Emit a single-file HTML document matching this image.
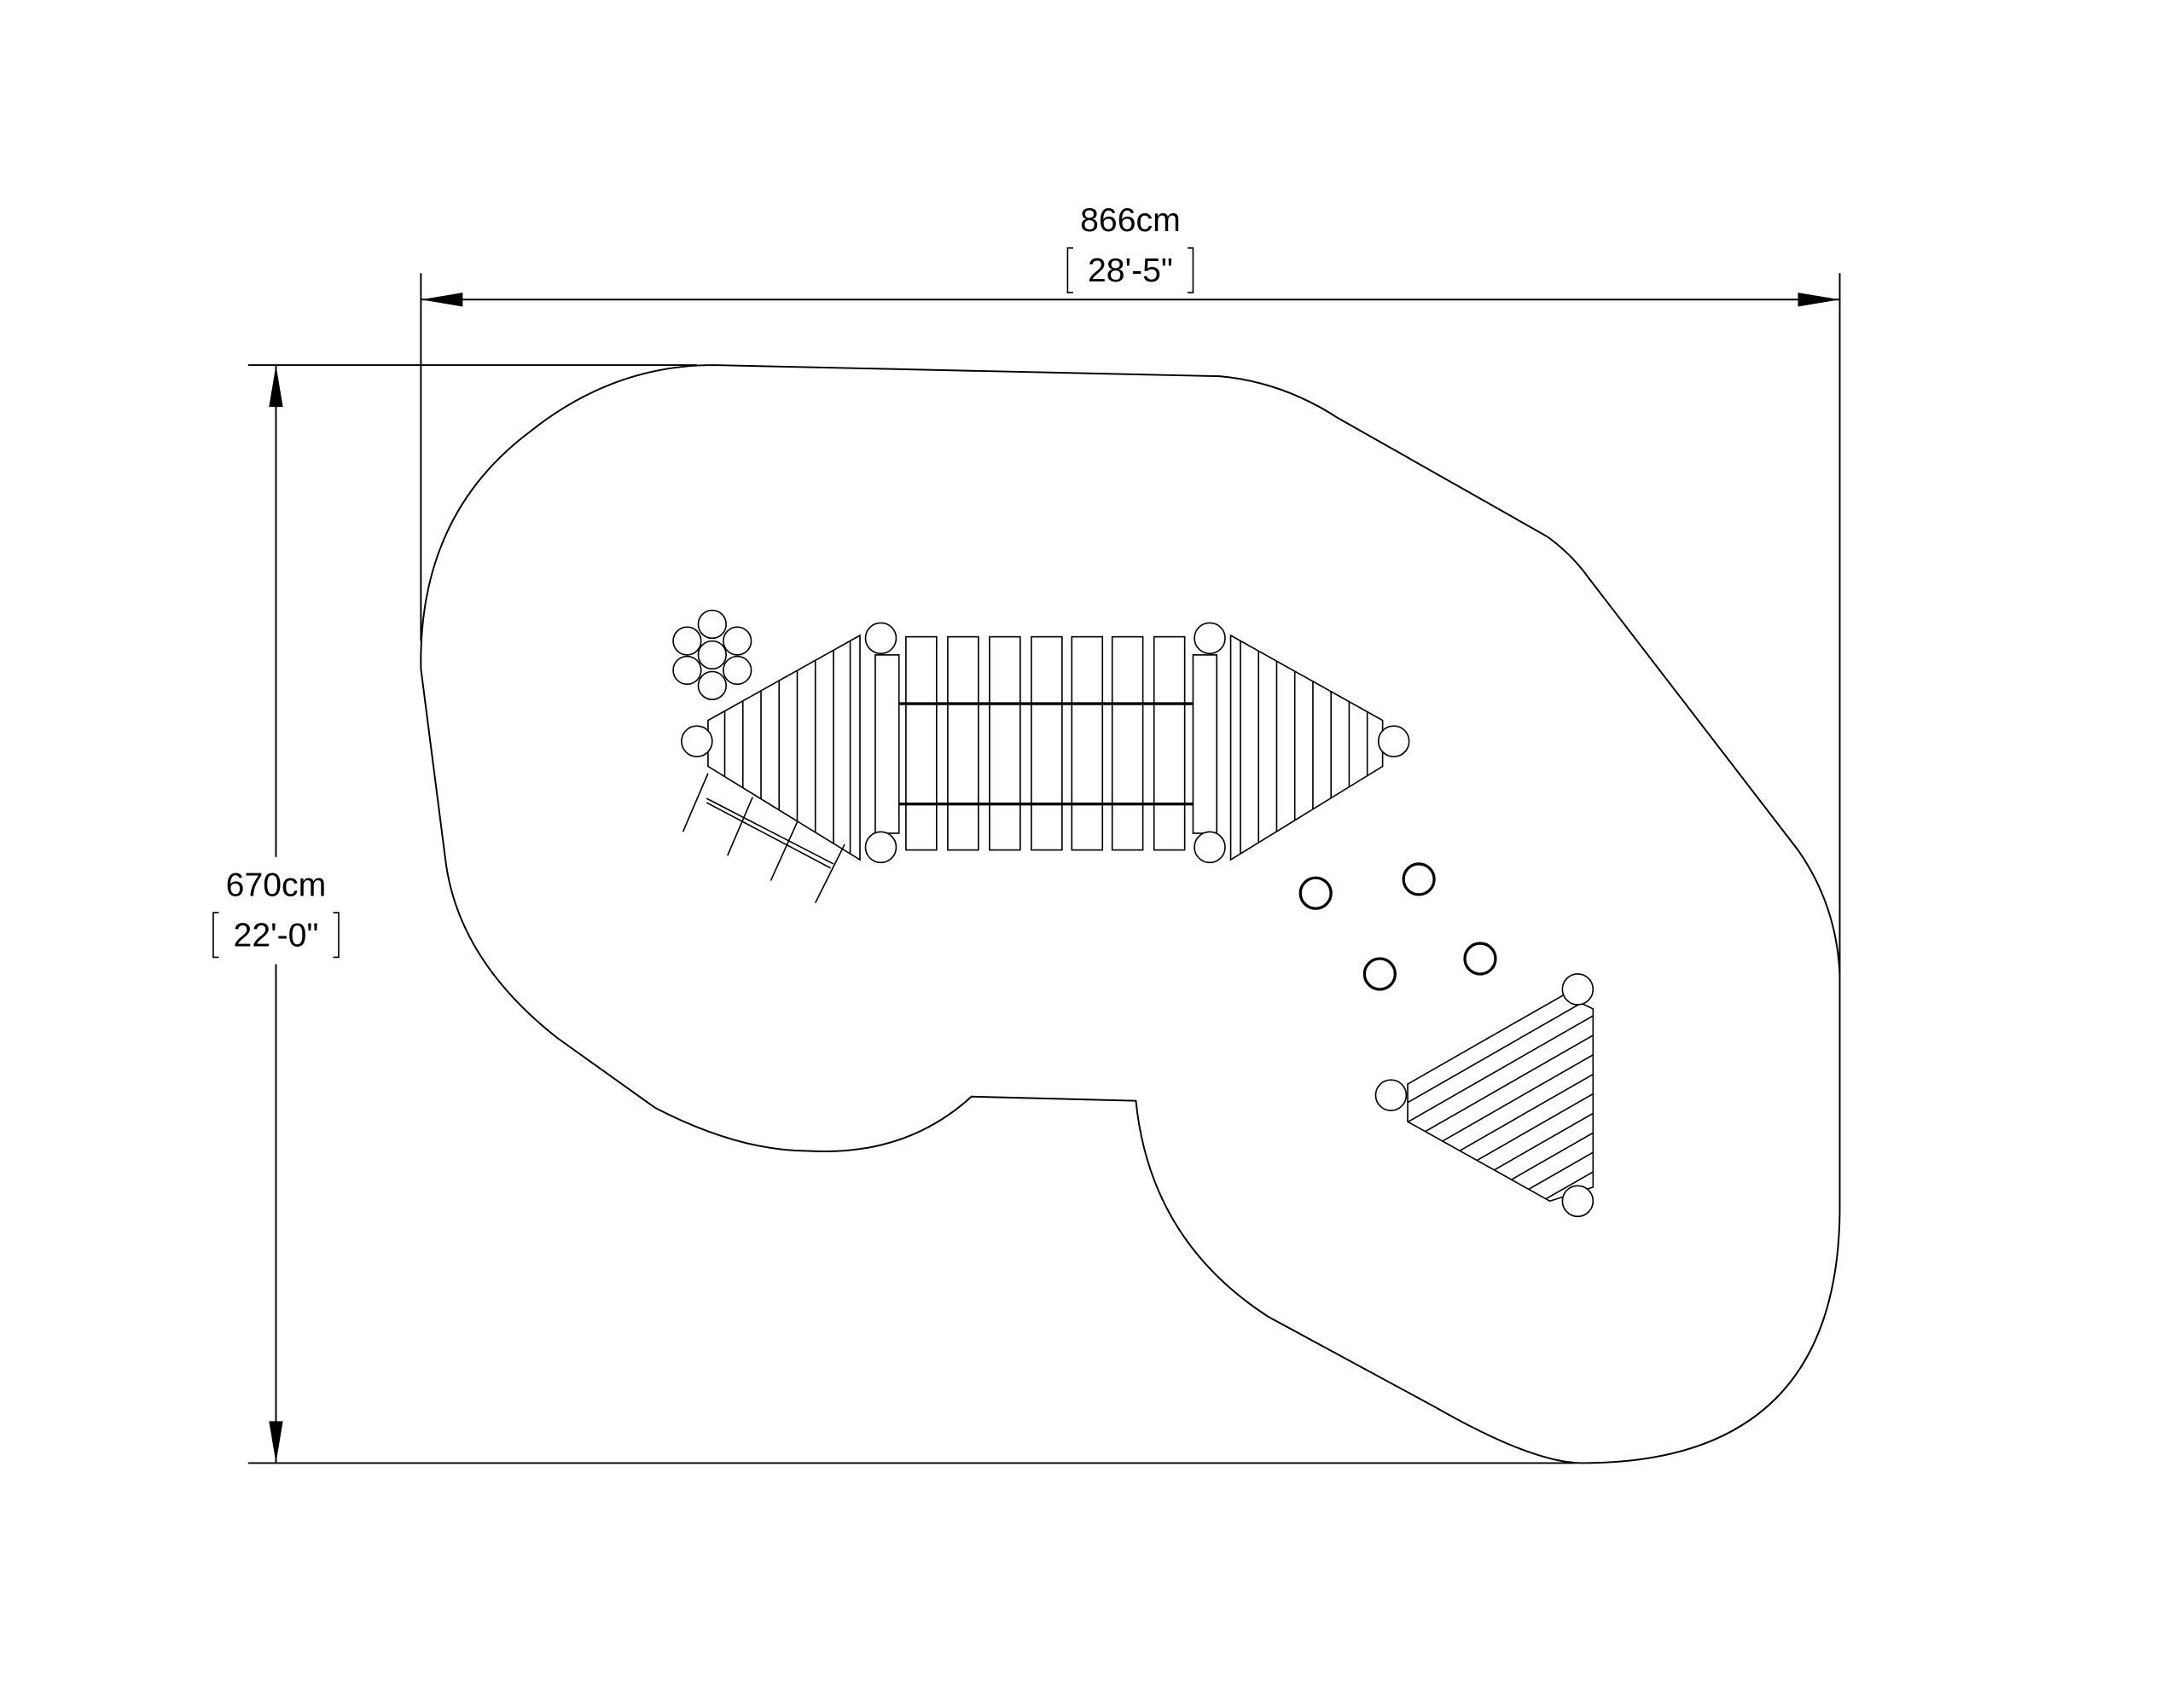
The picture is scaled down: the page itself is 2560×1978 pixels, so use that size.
<!DOCTYPE html>
<html><head><meta charset="utf-8"><style>
html,body{margin:0;padding:0;background:#fff;}
svg{display:block;}
text{font-family:"Liberation Sans",sans-serif;fill:#000;}
</style></head><body>
<svg width="2560" height="1978" viewBox="0 0 1567 1210.7" xmlns="http://www.w3.org/2000/svg">
<defs>
<clipPath id="lp"><polygon points="617,456 508,517 508,550 617,617"/></clipPath>
<clipPath id="rp"><polygon points="883,456 992,517 992,550 883,617"/></clipPath>
<clipPath id="tp"><polygon points="1010,778 1122,714 1143,724 1143,852 1112,862 1010,805"/></clipPath>
</defs>
<g fill="none" stroke="#000" stroke-width="1.2">
<line x1="302" y1="196" x2="302" y2="460"/>
<line x1="1320" y1="196" x2="1320" y2="700"/>
<line x1="302" y1="215" x2="1320" y2="215"/>
<line x1="178" y1="262" x2="500" y2="262"/>
<line x1="178" y1="1050" x2="1130" y2="1050"/>
<line x1="198" y1="262" x2="198" y2="615"/>
<line x1="198" y1="692" x2="198" y2="1050"/>
<path d="M512,262 L875,270 Q920,274 960,300 L1110,385 Q1128,398 1140,415 L1290,610 Q1318,650 1320,700 L1320,870 Q1318,1050 1135,1050 Q1100,1050 1030,1010 L910,945 Q825,890 815,790 L697,787 Q650,830 580,826 Q530,826 470,795 L400,745 Q330,690 320,620 L302,480 Q300,370 380,310 Q440,262 512,262 Z"/>
</g>
<g fill="#000" stroke="none">
<polygon points="302,215 332,210 332,220"/>
<polygon points="1320,215 1290,210 1290,220"/>
<polygon points="198,262 193,292 203,292"/>
<polygon points="198,1050 193,1020 203,1020"/>
</g>
<text x="811" y="166" font-size="24" text-anchor="middle">866cm</text>
<text x="811" y="202" font-size="24" text-anchor="middle">28'-5"</text>
<path d="M770,178 h-4 v32 h4 M852,178 h4 v32 h-4" fill="none" stroke="#000" stroke-width="1"/>
<text x="198" y="643" font-size="24" text-anchor="middle">670cm</text>
<text x="198" y="679" font-size="24" text-anchor="middle">22'-0"</text>
<path d="M157,655 h-4 v32 h4 M239,655 h4 v32 h-4" fill="none" stroke="#000" stroke-width="1"/>

<g fill="none" stroke="#000" stroke-width="1">
<rect x="650" y="457" width="22" height="153"/>
<rect x="680" y="457" width="22" height="153"/>
<rect x="710" y="457" width="22" height="153"/>
<rect x="740" y="457" width="22" height="153"/>
<rect x="769" y="457" width="22" height="153"/>
<rect x="798" y="457" width="22" height="153"/>
<rect x="828" y="457" width="22" height="153"/>
<line x1="645" y1="505" x2="856" y2="505" stroke-width="2"/>
<line x1="645" y1="577" x2="856" y2="577" stroke-width="2"/>
<rect x="628" y="470" width="17" height="128"/>
<rect x="856" y="470" width="17" height="128"/>
<polygon points="617,456 508,517 508,550 617,617"/>
<g clip-path="url(#lp)">
<line x1="520" y1="440" x2="520" y2="630"/><line x1="533" y1="440" x2="533" y2="630"/>
<line x1="546" y1="440" x2="546" y2="630"/><line x1="559" y1="440" x2="559" y2="630"/>
<line x1="572" y1="440" x2="572" y2="630"/><line x1="585" y1="440" x2="585" y2="630"/>
<line x1="598" y1="440" x2="598" y2="630"/><line x1="610" y1="440" x2="610" y2="630"/>
</g>
<polygon points="883,456 992,517 992,550 883,617"/>
<g clip-path="url(#rp)">
<line x1="890" y1="440" x2="890" y2="630"/><line x1="903" y1="440" x2="903" y2="630"/>
<line x1="916" y1="440" x2="916" y2="630"/><line x1="929" y1="440" x2="929" y2="630"/>
<line x1="942" y1="440" x2="942" y2="630"/><line x1="955" y1="440" x2="955" y2="630"/>
<line x1="968" y1="440" x2="968" y2="630"/><line x1="981" y1="440" x2="981" y2="630"/>
</g>
<g fill="#fff">
<circle cx="632" cy="458" r="11"/><circle cx="632" cy="608" r="11"/><circle cx="500" cy="532" r="11"/>
<circle cx="868" cy="458" r="11"/><circle cx="868" cy="608" r="11"/><circle cx="1000" cy="532" r="11"/>
<circle cx="511" cy="448" r="10"/><circle cx="493" cy="460" r="10"/><circle cx="529" cy="460" r="10"/>
<circle cx="493" cy="481" r="10"/><circle cx="529" cy="481" r="10"/><circle cx="511" cy="492" r="10"/>
<circle cx="511" cy="470" r="10"/>
</g>
<line x1="507" y1="573" x2="598" y2="620"/>
<line x1="507" y1="576" x2="596" y2="623"/>
<line x1="508" y1="555" x2="490" y2="597"/>
<line x1="540" y1="572" x2="522" y2="614"/>
<line x1="572" y1="590" x2="553" y2="632"/>
<line x1="606" y1="606" x2="585" y2="648"/>
<g stroke-width="2">
<circle cx="944" cy="641" r="11"/><circle cx="1018" cy="631" r="11"/>
<circle cx="990" cy="699" r="11"/><circle cx="1062" cy="688" r="11"/>
</g>
<polygon points="1010,778 1122,714 1143,724 1143,852 1112,862 1010,805"/>
<g clip-path="url(#tp)">
<line x1="1000" y1="797" x2="1150" y2="711"/>
<line x1="1000" y1="811" x2="1150" y2="725"/>
<line x1="1000" y1="825" x2="1150" y2="739"/>
<line x1="1000" y1="839" x2="1150" y2="753"/>
<line x1="1000" y1="853" x2="1150" y2="767"/>
<line x1="1000" y1="867" x2="1150" y2="781"/>
<line x1="1000" y1="881" x2="1150" y2="795"/>
<line x1="1000" y1="895" x2="1150" y2="809"/>
<line x1="1000" y1="909" x2="1150" y2="823"/>
<line x1="1000" y1="923" x2="1150" y2="837"/>
</g>
<g fill="#fff">
<circle cx="1132" cy="710" r="11"/><circle cx="998" cy="786" r="11"/><circle cx="1132" cy="862" r="11"/>
</g>
</g>
</svg>
</body></html>
